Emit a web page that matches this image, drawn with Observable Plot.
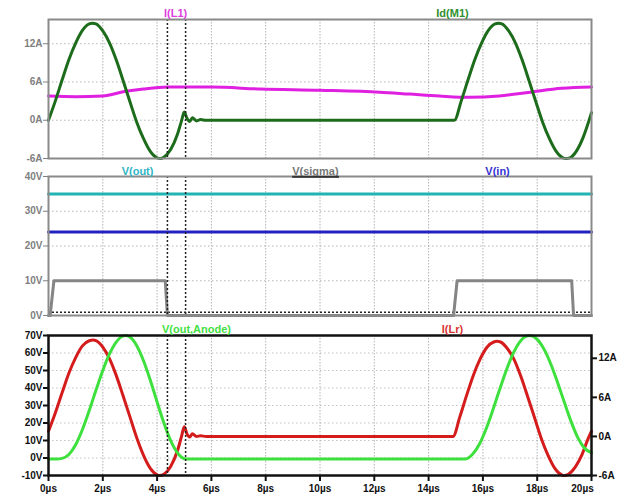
<!DOCTYPE html>
<html><head><meta charset="utf-8">
<script src="https://cdn.jsdelivr.net/npm/d3@7"></script>
<script src="https://cdn.jsdelivr.net/npm/@observablehq/plot@0.6"></script>
<style>
body{margin:0;background:#fff;}
#wrap{position:relative;width:619px;height:497px;}
#wrap svg{position:absolute;left:0;overflow:visible;}
</style></head><body><div id="wrap"></div>
<script>
// ---- tick values ----
const timeTicks = [0,2,4,6,8,10,12,14,16,18,20];
const topTicks = [-6,0,6,12];
const midTicks = [0,10,20,30,40];
const botVTicks = [-10,0,10,20,30,40,50,60,70];
const botATicks = [-6,0,6,12];
const cursorTimes = [4.38, 5.05];

// ---- top pane (A) ----
const idM1 = [[0,0],[0.25,3.0],[0.5,6.3],[0.75,9.5],[1.0,12.1],[1.25,14.1],[1.5,15.1],[1.62,15.2],[1.75,15.1],[2.0,14.0],[2.25,12.1],[2.5,9.4],[2.75,6.2],[3.0,2.9],[3.25,-0.3],[3.5,-2.9],[3.75,-4.9],[4.0,-5.9],[4.12,-6.0],[4.25,-5.8],[4.5,-4.6],[4.75,-2.2],[4.9,-0.1],[5.0,1.3],[5.1,0.3],[5.2,-0.2],[5.3,0.4],[5.45,-0.1],[5.6,0.1],[5.8,0],[14.95,0],[15.2,3.0],[15.45,6.3],[15.7,9.5],[15.95,12.1],[16.2,14.1],[16.45,15.1],[16.57,15.2],[16.7,15.1],[16.95,14.0],[17.2,12.1],[17.45,9.4],[17.7,6.2],[17.95,2.9],[18.2,-0.3],[18.45,-2.9],[18.7,-4.9],[18.95,-5.9],[19.07,-6.0],[19.2,-5.9],[19.45,-4.8],[19.7,-2.6],[20,1.2]];
const iL1 = [[0,3.8],[1,3.7],[2,3.8],[2.8,4.5],[3.5,4.9],[4.4,5.2],[6,5.2],[7.8,4.9],[10,4.7],[12.2,4.4],[13.3,4.1],[14.4,3.8],[15.5,3.6],[16.6,3.8],[17.75,4.4],[18.9,5.0],[20,5.2]];

// ---- middle pane (V) ----
const vOut = [[0,35],[20,35]];
const vIn = [[0,24],[20,24]];
const vSigma = [[0,0],[0.06,0],[0.2,10],[4.3,10],[4.38,0],[14.92,0],[15.05,10],[19.27,10],[19.34,0],[20,0]];
const dottedLevel = [0.9];

// ---- bottom pane ----
const vAnode = [[0,-0.5],[0.3,-0.5],[0.5,-0.2],[0.75,2],[1.0,7.6],[1.25,16.3],[1.5,27.1],[1.75,38.8],[2.0,50.0],[2.25,59.6],[2.5,66.4],[2.7,69.4],[2.84,70],[3.0,69.1],[3.25,64.2],[3.5,55.6],[3.75,44.4],[4.0,32.0],[4.25,20.0],[4.5,9.9],[4.75,2.9],[4.9,0.4],[5.05,-0.5],[15.36,-0.5],[15.61,2],[15.86,7.6],[16.11,16.3],[16.36,27.1],[16.61,38.8],[16.86,50],[17.11,59.6],[17.36,66.4],[17.56,69.4],[17.73,70],[18.0,67.8],[18.25,62.2],[18.5,53.7],[18.75,43.2],[19.0,31.8],[19.25,20.8],[19.5,11.5],[19.75,5.5],[20,3.0]];
const iLr = [[0,0.8],[0.25,3.6],[0.5,6.7],[0.75,9.7],[1.0,12.1],[1.25,13.9],[1.5,14.7],[1.64,14.8],[1.75,14.7],[2.0,13.7],[2.25,11.9],[2.5,9.3],[2.75,6.2],[3.0,3.0],[3.25,-0.2],[3.5,-2.9],[3.75,-4.9],[4.0,-5.9],[4.1,-6.0],[4.25,-5.8],[4.5,-4.6],[4.75,-2.2],[4.9,0],[5.0,1.5],[5.1,0.4],[5.2,-0.1],[5.3,0.4],[5.45,0],[5.6,0.1],[5.8,0],[14.9,0],[15.15,3.0],[15.4,6.3],[15.65,9.4],[15.9,11.9],[16.15,13.7],[16.4,14.5],[16.52,14.6],[16.65,14.5],[16.9,13.5],[17.15,11.8],[17.4,9.2],[17.65,6.1],[17.9,2.9],[18.15,-0.3],[18.4,-2.9],[18.65,-4.9],[18.9,-5.9],[19.0,-6.0],[19.15,-5.8],[19.4,-4.7],[19.65,-2.8],[19.85,-0.6],[20,0.8]];

// ---- trace labels ----
const topLabels = [{name:"I(L1)", t:4.68, color:"#e03ee0"},{name:"Id(M1)", t:14.88, color:"#2f8f2f"}];
const midLabels = [{name:"V(out)", t:3.28, color:"#2fb4c4"},{name:"V(sigma)", t:9.83, color:"#777777"},{name:"V(in)", t:16.54, color:"#3434d0"}];
const botLabels = [{name:"V(out,Anode)", t:5.45, color:"#44e044"},{name:"I(Lr)", t:14.88, color:"#d83434"}];

// secondary axis mapping for bottom pane
const aDom = [-6, 15.5], vDom = [-10, 70];
const aToV = a => vDom[0] + (a - aDom[0]) * (vDom[1]-vDom[0]) / (aDom[1]-aDom[0]);
const vToA = v => aDom[0] + (v - vDom[0]) * (aDom[1]-aDom[0]) / (vDom[1]-vDom[0]);

const X = d => d[0], Y = d => d[1];
const font = '"Liberation Sans", Arial, sans-serif';
const common = {width:619, marginLeft:48, marginRight:28, x:{domain:[0,20], axis:null, label:null}};
const gridX = (c) => Plot.ruleX(timeTicks.slice(1,-1), {stroke:c, strokeWidth:1, strokeDasharray:"1.5,1.5", strokeOpacity:0.75});
const gridY = (ticks, c) => Plot.ruleY(ticks, {stroke:c, strokeWidth:1, strokeDasharray:"1.5,2.5", strokeOpacity:0.7});
const cursors = () => Plot.ruleX(cursorTimes, {stroke:"#222", strokeWidth:1.5, strokeDasharray:"2,2"});
const labelMark = (arr, dy) => Plot.text(arr, {x:"t", text:"name", fill:"color", frameAnchor:"top", dy, fontSize:11, fontWeight:"bold"});

const p1 = Plot.plot({
  ...common, height:166, marginTop:19, marginBottom:8,
  y:{domain:[-6,15.8], axis:null, label:null},
  style:{fontFamily:font, fontSize:"10px", fontWeight:"bold", color:"#808080", background:"transparent"},
  marks:[
    gridX("#999"), gridY(topTicks.slice(1), "#999"),
    Plot.line(iL1, {x:X, y:Y, stroke:"#e020e0", strokeWidth:3, curve:"monotone-x"}),
    Plot.line(idM1, {x:X, y:Y, stroke:"#1c6c1c", strokeWidth:3, curve:"monotone-x"}),
    cursors(),
    Plot.frame({stroke:"#8a8a8a", strokeWidth:2}),
    Plot.axisY({ticks:topTicks, tickFormat:d => d + "A", tickSize:5, tickPadding:1, label:null}),
    labelMark(topLabels, -10)
  ]
});

const p2 = Plot.plot({
  ...common, height:157, marginTop:10, marginBottom:8,
  y:{domain:[0,40], axis:null, label:null},
  style:{fontFamily:font, fontSize:"10px", fontWeight:"bold", color:"#808080", background:"transparent"},
  marks:[
    gridX("#999"), gridY(midTicks.slice(1,-1), "#999"),
    Plot.ruleY(dottedLevel, {stroke:"#222", strokeWidth:1.5, strokeDasharray:"2,2"}),
    Plot.line(vOut, {x:X, y:Y, stroke:"#22b4b4", strokeWidth:3}),
    Plot.line(vIn, {x:X, y:Y, stroke:"#2222c0", strokeWidth:3}),
    Plot.line(vSigma, {x:X, y:Y, stroke:"#858585", strokeWidth:3}),
    cursors(),
    Plot.frame({stroke:"#8a8a8a", strokeWidth:2}),
    Plot.axisY({ticks:midTicks, tickFormat:d => d + "V", tickSize:5, tickPadding:1, label:null}),
    labelMark(midLabels, -9)
  ]
});

const p3 = Plot.plot({
  ...common, height:174, marginTop:12, marginBottom:22,
  y:{domain:vDom, axis:null, label:null},
  style:{fontFamily:font, fontSize:"10px", fontWeight:"bold", color:"#111", background:"transparent"},
  marks:[
    gridX("#999"), gridY(botVTicks.slice(1,-1), "#aaa"),
    Plot.line(iLr, {x:X, y:d => aToV(d[1]), stroke:"#d41c1c", strokeWidth:3, curve:"monotone-x"}),
    Plot.line(vAnode, {x:X, y:Y, stroke:"#3ee03e", strokeWidth:3, curve:"monotone-x"}),
    cursors(),
    Plot.frame({stroke:"#111", strokeWidth:2.5}),
    Plot.axisY({ticks:botVTicks, tickFormat:d => d + "V", tickSize:5, tickPadding:1, strokeWidth:2, label:null}),
    Plot.axisY({anchor:"right", ticks:botATicks.map(aToV), tickFormat:v => Math.round(vToA(v)) + "A", tickSize:5, tickPadding:2, strokeWidth:2, label:null}),
    Plot.axisX({ticks:timeTicks.slice(0,-1), tickFormat:d => d + "µs", tickSize:6, tickPadding:3, strokeWidth:2, label:null}),
    Plot.axisX({ticks:timeTicks.slice(-1), tickFormat:d => d + "µs", tickSize:6, tickPadding:3, strokeWidth:2, text:null, label:null}),
    Plot.axisX({ticks:timeTicks.slice(-1), tickFormat:d => d + "µs", tickSize:0, tickPadding:9, dx:-9, label:null}),
    labelMark(botLabels, -10)
  ]
});

const wrap = document.getElementById("wrap");
[[p1,0],[p2,166],[p3,323]].forEach(([p,top]) => { p.style.top = top + "px"; wrap.appendChild(p); });

// underline V(sigma) like the reference (dark bar under the label)
d3.select(p2).selectAll("text").filter(function(){ return this.textContent === "V(sigma)"; })
  .each(function(){
    const b = this.getBBox();
    d3.select(this.parentNode).append("rect")
      .attr("transform", this.getAttribute("transform"))
      .attr("x", b.x).attr("y", b.y + b.height - 1.5).attr("width", b.width).attr("height", 2)
      .attr("fill", "#333");
  });
</script>
</body></html>
